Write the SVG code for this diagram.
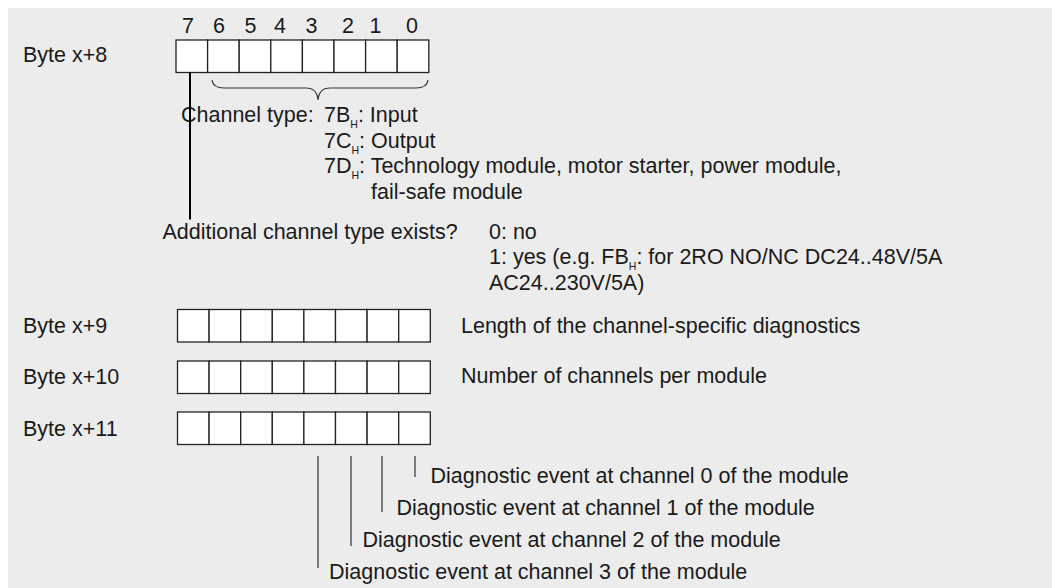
<svg xmlns="http://www.w3.org/2000/svg" width="1052" height="588" viewBox="0 0 1052 588">
<style>
text{font-family:"Liberation Sans",Arial,sans-serif;font-size:21.5px;fill:#1a1a1a}
.sub{font-size:10.5px}
.cell{fill:#fff;stroke:#222;stroke-width:1.3}
.thin{stroke:#333;stroke-width:1.2;fill:none}
</style>
<rect x="0" y="0" width="1052" height="588" fill="#fff"/>
<rect x="8" y="8" width="1044" height="580" fill="#ececec"/>
<defs>
<g id="byte">
<rect class="cell" x="0" y="0" width="31.6" height="32.5"/>
<rect class="cell" x="31.6" y="0" width="31.6" height="32.5"/>
<rect class="cell" x="63.2" y="0" width="31.6" height="32.5"/>
<rect class="cell" x="94.8" y="0" width="31.6" height="32.5"/>
<rect class="cell" x="126.4" y="0" width="31.6" height="32.5"/>
<rect class="cell" x="158" y="0" width="31.6" height="32.5"/>
<rect class="cell" x="189.6" y="0" width="31.6" height="32.5"/>
<rect class="cell" x="221.2" y="0" width="31.6" height="32.5"/>
</g>
</defs>
<g id="byte8">
<text x="23" y="62">Byte x+8</text>
<text x="188" y="33" text-anchor="middle">7</text>
<text x="219" y="33" text-anchor="middle">6</text>
<text x="250.5" y="33" text-anchor="middle">5</text>
<text x="280" y="33" text-anchor="middle">4</text>
<text x="311.5" y="33" text-anchor="middle">3</text>
<text x="348" y="33" text-anchor="middle">2</text>
<text x="375.5" y="33" text-anchor="middle">1</text>
<text x="412" y="33" text-anchor="middle">0</text>
<use href="#byte" x="176" y="40"/>
</g>
<g id="channel-type">
<path class="thin" d="M212,80 Q213,88 224,88 L306,88 Q317,88 318,100 Q319,88 330,88 L416,88 Q427,88 428,80"/>
<text x="181" y="122">Channel type:</text>
<text x="324" y="122">7B<tspan class="sub" dy="6">H</tspan><tspan dy="-6">: Input</tspan></text>
<text x="324" y="147.5">7C<tspan class="sub" dy="6">H</tspan><tspan dy="-6">: Output</tspan></text>
<text x="324" y="173">7D<tspan class="sub" dy="6">H</tspan><tspan dy="-6">: Technology module, motor starter, power module,</tspan></text>
<text x="371" y="198.5">fail-safe module</text>
</g>
<g id="additional">
<text x="162.5" y="239">Additional channel type exists?</text>
<text x="489" y="239">0: no</text>
<text x="489" y="264">1: yes (e.g. FB<tspan class="sub" dy="6">H</tspan><tspan dy="-6">: for 2RO NO/NC DC24..48V/5A</tspan></text>
<text x="489" y="289.5">AC24..230V/5A)</text>
</g>
<g id="byte9">
<text x="23" y="333">Byte x+9</text>
<use href="#byte" x="177.5" y="309.5"/>
<text x="461" y="333">Length of the channel-specific diagnostics</text>
</g>
<g id="byte10">
<text x="23" y="384">Byte x+10</text>
<use href="#byte" x="177.5" y="361"/>
<text x="461" y="383">Number of channels per module</text>
</g>
<g id="byte11">
<text x="23" y="435.5">Byte x+11</text>
<use href="#byte" x="177.5" y="412"/>
</g>
<g id="diag">
<text x="430.5" y="483">Diagnostic event at channel 0 of the module</text>
<text x="396.5" y="515">Diagnostic event at channel 1 of the module</text>
<text x="362.5" y="546.5">Diagnostic event at channel 2 of the module</text>
<text x="329" y="579">Diagnostic event at channel 3 of the module</text>
</g>
<g id="connectors">
<line x1="190" y1="72" x2="190" y2="219.5" stroke="#000" stroke-width="2"/>
<line class="thin" x1="415" y1="456" x2="415" y2="477"/>
<line class="thin" x1="382" y1="456" x2="382" y2="512"/>
<line class="thin" x1="351" y1="456" x2="351" y2="546"/>
<line class="thin" x1="318" y1="456" x2="318" y2="568"/>
</g>
</svg>
